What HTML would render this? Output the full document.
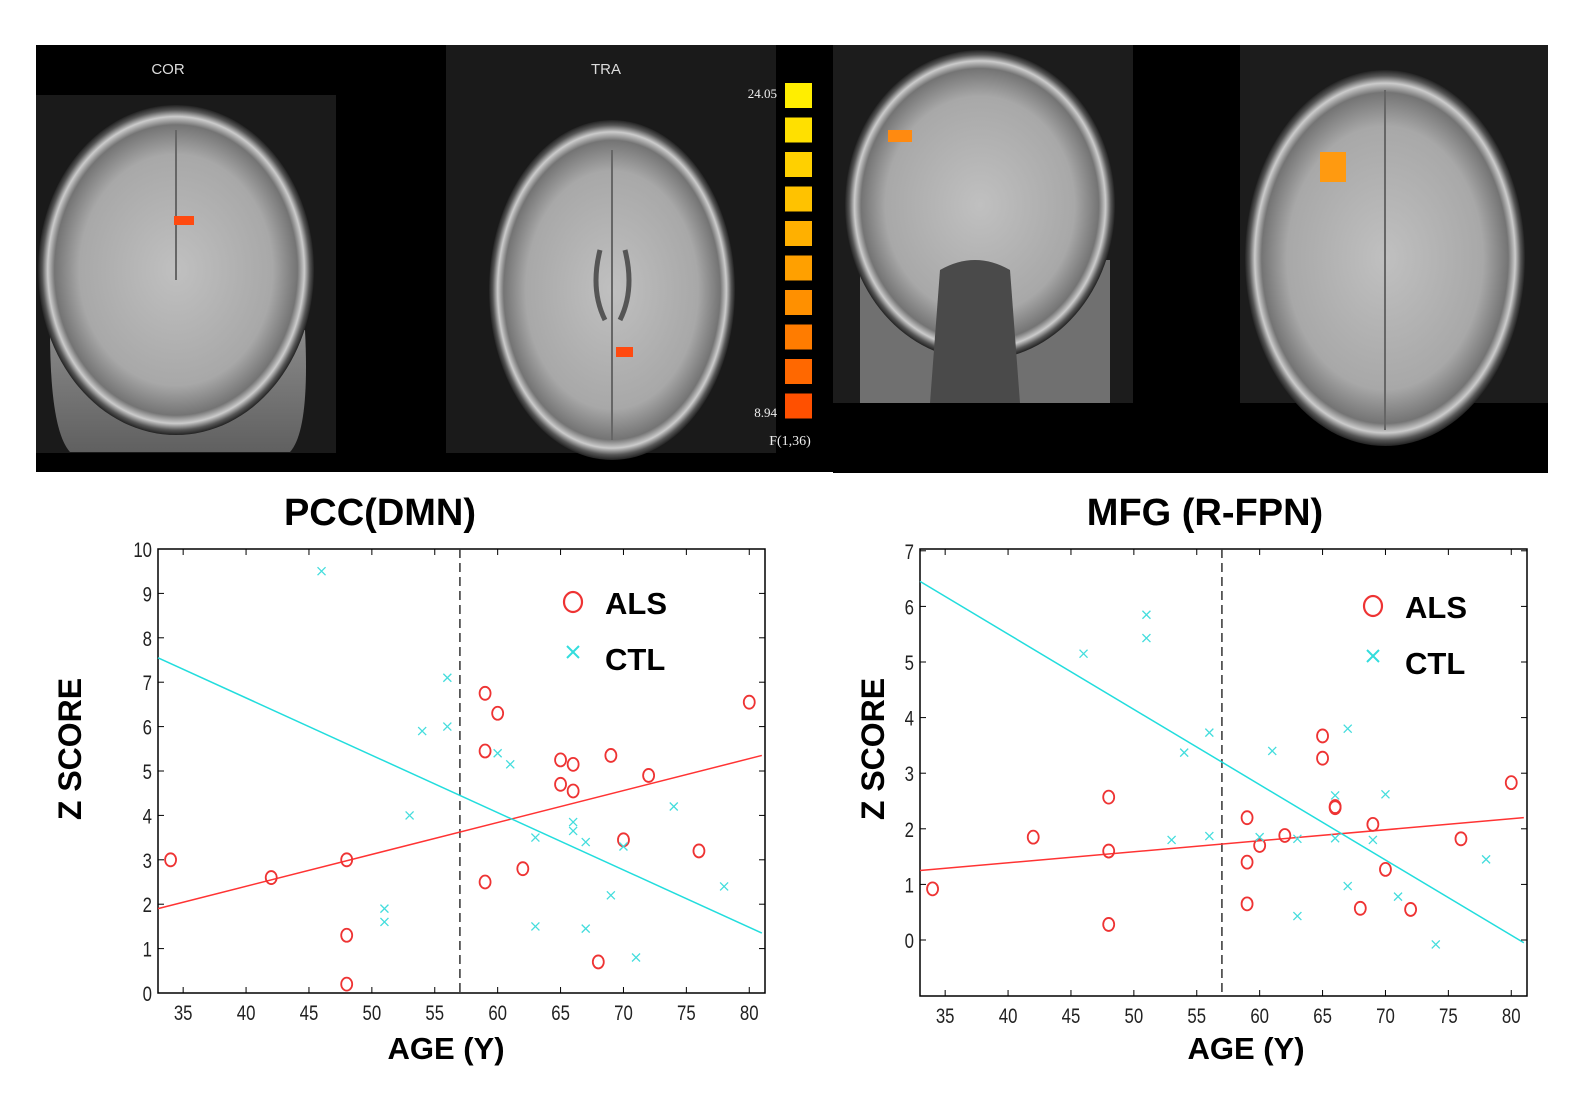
<!DOCTYPE html>
<html><head><meta charset="utf-8"><style>
html,body{margin:0;padding:0;background:#fff;}
svg{display:block;font-family:"Liberation Sans",Arial,sans-serif;}
</style></head><body>
<svg id="s" width="1581" height="1096" viewBox="0 0 1581 1096" xmlns="http://www.w3.org/2000/svg">
<defs>
<radialGradient id="br" cx="50%" cy="50%" r="50%">
<stop offset="0" stop-color="#c0c0c0"/><stop offset="0.7" stop-color="#a8a8a8"/><stop offset="0.88" stop-color="#747474"/><stop offset="0.93" stop-color="#cccccc"/><stop offset="0.97" stop-color="#555"/><stop offset="1" stop-color="#222"/>
</radialGradient>
<linearGradient id="neck" x1="0" y1="0" x2="0" y2="1"><stop offset="0" stop-color="#8a8a8a"/><stop offset="1" stop-color="#606060"/></linearGradient>
</defs>
<rect x="36" y="45" width="797" height="427" fill="#000"/>
<rect x="36" y="95" width="300" height="358" fill="#1a1a1a"/>
<rect x="446" y="45" width="330" height="408" fill="#1a1a1a"/>
<path d="M50 330 Q50 430 70 452 L290 452 Q310 430 305 330 Z" fill="url(#neck)"/>
<ellipse cx="176" cy="270" rx="138" ry="165" fill="url(#br)"/>
<line x1="176" y1="130" x2="176" y2="280" stroke="#666" stroke-width="2"/>
<ellipse cx="612" cy="290" rx="123" ry="170" fill="url(#br)"/>
<line x1="612" y1="150" x2="612" y2="440" stroke="#666" stroke-width="2"/>
<path d="M600 250 Q590 290 605 320 M625 250 Q635 290 620 320" stroke="#555" stroke-width="5" fill="none"/>
<rect x="174" y="216" width="20" height="9" fill="#ff4a10"/>
<rect x="616" y="347" width="17" height="10" fill="#ff4a10"/>
<text x="168" y="74" fill="#ddd" font-size="15" text-anchor="middle">COR</text>
<text x="606" y="74" fill="#ddd" font-size="15" text-anchor="middle">TRA</text>
<g id="cb"></g>
<text x="777" y="98" fill="#eee" font-size="13" text-anchor="end" font-family="Liberation Serif">24.05</text>
<text x="777" y="417" fill="#eee" font-size="13" text-anchor="end" font-family="Liberation Serif">8.94</text>
<text x="790" y="445" fill="#eee" font-size="14" text-anchor="middle" font-family="Liberation Serif">F(1,36)</text>

<rect x="833" y="45" width="715" height="428" fill="#000"/>
<rect x="833" y="45" width="300" height="358" fill="#1c1c1c"/>
<rect x="1240" y="45" width="308" height="358" fill="#1c1c1c"/>
<path d="M860 260 L860 403 L1110 403 L1110 260 Z" fill="#707070"/>
<ellipse cx="980" cy="205" rx="135" ry="155" fill="url(#br)"/>
<path d="M940 270 Q975 250 1010 270 L1020 403 L930 403 Z" fill="#4a4a4a"/>
<ellipse cx="1385" cy="258" rx="140" ry="188" fill="url(#br)"/>
<line x1="1385" y1="90" x2="1385" y2="430" stroke="#666" stroke-width="2"/>
<rect x="888" y="130" width="24" height="12" fill="#ff8a10"/>
<rect x="1320" y="152" width="26" height="30" fill="#ff9a10"/>

<g id="p"></g>
<text x="380" y="525" font-size="38" font-weight="bold" text-anchor="middle">PCC(DMN)</text>
<text x="1205" y="525" font-size="38" font-weight="bold" text-anchor="middle">MFG (R-FPN)</text>
<text x="446" y="1059" font-size="31" font-weight="bold" text-anchor="middle">AGE (Y)</text>
<text x="1246" y="1059" font-size="31" font-weight="bold" text-anchor="middle">AGE (Y)</text>
<text transform="translate(81,749) rotate(-90)" font-size="32" font-weight="bold" text-anchor="middle">Z SCORE</text>
<text transform="translate(884,749) rotate(-90)" font-size="32" font-weight="bold" text-anchor="middle">Z SCORE</text>
</svg>
<script>
var NS="http://www.w3.org/2000/svg";
function el(p,t,a,txt){var e=document.createElementNS(NS,t);for(var k in a)e.setAttribute(k,a[k]);if(txt!=null)e.textContent=txt;p.appendChild(e);return e;}
var cb=document.getElementById('cb');
var cols=["#ffee00","#ffe000","#ffd000","#ffc200","#ffb000","#ffa000","#ff9000","#ff7c00","#ff6800","#ff5000"];
for(var i=0;i<10;i++)el(cb,'rect',{x:785,y:83+i*34.5,width:27,height:25,fill:cols[i]});
var g=document.getElementById('p');
function lab(x,y,t,anc){var e=el(g,'text',{'font-size':21,'text-anchor':anc,fill:'#222',transform:'translate('+x+','+y+') scale(0.8,1)'},t);}
function plot(o){
 var X=function(a){return o.x0+(a-33)*o.sx;},Y=function(z){return o.y0-z*o.sy;};
 el(g,'rect',{x:o.bx,y:o.by,width:o.bw,height:o.bh,fill:'none',stroke:'#000','stroke-width':1.5});
 for(var a=35;a<=80;a+=5){var x=X(a);el(g,'line',{x1:x,y1:o.by+o.bh,x2:x,y2:o.by+o.bh-6,stroke:'#000'});el(g,'line',{x1:x,y1:o.by,x2:x,y2:o.by+6,stroke:'#000'});
  lab(x,o.by+o.bh+27,a,'middle');}
 for(var z=o.zmin;z<=o.zmax;z++){var y=Y(z);el(g,'line',{x1:o.bx,y1:y,x2:o.bx+6,y2:y,stroke:'#000'});el(g,'line',{x1:o.bx+o.bw,y1:y,x2:o.bx+o.bw-6,y2:y,stroke:'#000'});
  lab(o.bx-6,y+8,z,'end');}
 el(g,'line',{x1:X(57),y1:o.by,x2:X(57),y2:o.by+o.bh,stroke:'#333','stroke-width':1.5,'stroke-dasharray':'9,5'});
 el(g,'line',{x1:X(33),y1:Y(o.r[0]),x2:X(81),y2:Y(o.r[1]),stroke:'#f33','stroke-width':1.5});
 el(g,'line',{x1:X(33),y1:Y(o.c[0]),x2:X(81),y2:Y(o.c[1]),stroke:'#2dd','stroke-width':1.5});
 o.als.forEach(function(p){el(g,'ellipse',{cx:X(p[0]),cy:Y(p[1]),rx:5.5,ry:6.5,fill:'none',stroke:'#e33','stroke-width':1.8});});
 o.ctl.forEach(function(p){var x=X(p[0]),y=Y(p[1]);el(g,'path',{d:'M'+(x-4)+' '+(y-4)+'L'+(x+4)+' '+(y+4)+'M'+(x+4)+' '+(y-4)+'L'+(x-4)+' '+(y+4),stroke:'#4dd','stroke-width':1.3});});
 var lx=o.lx,ly=o.ly;
 el(g,'ellipse',{cx:lx,cy:ly,rx:9,ry:10,fill:'none',stroke:'#e33','stroke-width':2.2});
 el(g,'text',{x:lx+32,y:ly+12,'font-size':31,'font-weight':'bold'},'ALS');
 el(g,'path',{d:'M'+(lx-6)+' '+(ly+44)+'L'+(lx+6)+' '+(ly+56)+'M'+(lx+6)+' '+(ly+44)+'L'+(lx-6)+' '+(ly+56),stroke:'#3dd','stroke-width':2});
 el(g,'text',{x:lx+32,y:ly+68,'font-size':31,'font-weight':'bold'},'CTL');
}
plot({x0:158,sx:12.58,y0:993,sy:44.4,bx:158,by:549,bw:607,bh:444,zmin:0,zmax:10,r:[1.9,5.35],c:[7.55,1.35],lx:573,ly:602,
als:[[34,3.0],[42,2.6],[48,3.0],[48,1.3],[48,0.2],[59,6.75],[60,6.3],[59,5.45],[59,2.5],[62,2.8],[65,5.25],[66,5.15],[65,4.7],[66,4.55],[69,5.35],[72,4.9],[70,3.45],[68,0.7],[76,3.2],[80,6.55]],
ctl:[[46,9.5],[56,7.1],[54,5.9],[56,6.0],[60,5.4],[61,5.15],[53,4.0],[51,1.9],[51,1.6],[63,3.5],[63,1.5],[66,3.85],[66,3.65],[67,3.4],[67,1.45],[70,3.3],[69,2.2],[71,0.8],[74,4.2],[78,2.4]]});
plot({x0:920,sx:12.58,y0:940,sy:55.6,bx:920,by:549,bw:607,bh:447,zmin:0,zmax:7,r:[1.25,2.2],c:[6.45,-0.05],lx:1373,ly:606,
als:[[34,0.92],[42,1.85],[48,2.57],[48,1.6],[48,0.28],[59,2.2],[59,1.4],[59,0.65],[60,1.7],[62,1.88],[65,3.67],[65,3.27],[66,2.4],[66,2.38],[69,2.08],[70,1.27],[68,0.57],[72,0.55],[76,1.82],[80,2.83]],
ctl:[[46,5.15],[51,5.85],[51,5.43],[54,3.37],[56,3.73],[53,1.8],[56,1.87],[60,1.85],[61,3.4],[63,1.82],[63,0.43],[66,2.6],[66,1.83],[67,3.8],[67,0.97],[69,1.8],[70,2.62],[71,0.78],[74,-0.08],[78,1.45]]});
</script>
</body></html>
